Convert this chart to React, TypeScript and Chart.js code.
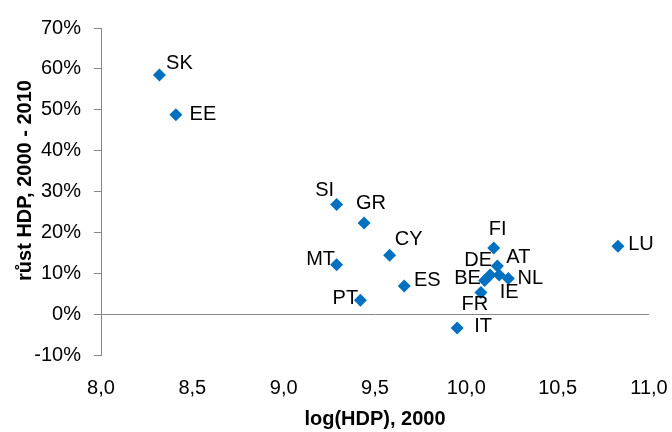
import React, { useEffect, useRef } from "react";
import { Chart, registerables } from "chart.js";

Chart.register(...registerables);

const countries = ["SK", "EE", "SI", "GR", "CY", "MT", "ES", "PT", "IT", "FI", "AT", "DE", "BE", "NL", "IE", "FR", "LU"];
const logGdp2000 = [8.32, 8.41, 9.29, 9.44, 9.58, 9.29, 9.66, 9.42, 9.95, 10.15, 10.17, 10.13, 10.1, 10.23, 10.18, 10.08, 10.83];
const gdpGrowth = [58.5, 48.8, 26.8, 22.3, 14.4, 12.1, 6.9, 3.4, -3.4, 16.2, 11.8, 9.6, 8.2, 8.7, 9.6, 5.3, 16.6];

const xTicks = [8, 8.5, 9, 9.5, 10, 10.5, 11];
const yTicks = [-10, 0, 10, 20, 30, 40, 50, 60, 70];

const xTitle = "log(HDP), 2000";
const yTitle = "růst HDP, 2000 - 2010";

// label placement offsets (px) relative to each point, by country
const labelOffsets: Record<string, [number, number]> = {
  SK: [20, -12],
  EE: [27, 0],
  SI: [-12, -14],
  GR: [7, -19],
  CY: [19, -16],
  MT: [-16, -5],
  ES: [23, -5],
  PT: [-15, -2],
  IT: [26, -2],
  FI: [4, -18],
  AT: [21, -8],
  DE: [-12, -14],
  BE: [-17, -2],
  NL: [22, 0],
  IE: [10, 18],
  FR: [-6, 12],
  LU: [23, -2],
};

const FONT = "'Liberation Sans', Arial, sans-serif";

export default function App() {
  const ref = useRef<HTMLCanvasElement | null>(null);
  useEffect(() => {
    document.body.style.margin = "0";
    const canvas = ref.current!;
    const labelPlugin = {
      id: "pointLabels",
      afterDatasetsDraw(chart: any) {
        const ctx = chart.ctx;
        const meta = chart.getDatasetMeta(0);
        ctx.save();
        ctx.font = `20px ${FONT}`;
        ctx.fillStyle = "#000";
        ctx.textAlign = "center";
        ctx.textBaseline = "middle";
        meta.data.forEach((el: any, i: number) => {
          const name = countries[i];
          const off = labelOffsets[name] || [15, 0];
          ctx.fillText(name, el.x + off[0], el.y + off[1]);
        });
        ctx.restore();
      },
      afterDraw(chart: any) {
        const ctx = chart.ctx;
        const ca = chart.chartArea;
        ctx.save();
        ctx.font = `bold 20px ${FONT}`;
        ctx.fillStyle = "#000";
        ctx.textAlign = "center";
        ctx.textBaseline = "middle";
        ctx.fillText(xTitle, (ca.left + ca.right) / 2, ca.bottom + 64);
        ctx.translate(25, (ca.top + ca.bottom) / 2 - 11);
        ctx.rotate(-Math.PI / 2);
        ctx.fillText(yTitle, 0, 0);
        ctx.restore();
      },
    };
    const chart = new Chart(canvas, {
      type: "scatter",
      data: {
        datasets: [
          {
            data: logGdp2000.map((x, i) => ({ x, y: gdpGrowth[i] })),
            pointStyle: "rectRot",
            pointRadius: 6.5,
            pointHoverRadius: 6.5,
            backgroundColor: "#0070C0",
            borderColor: "#0070C0",
            borderWidth: 0,
          },
        ],
      },
      options: {
        responsive: false,
        animation: false,
        devicePixelRatio: 1,
        layout: { padding: { top: 28, right: 23, left: 0, bottom: 0 } },
        plugins: { legend: { display: false }, tooltip: { enabled: false } },
        scales: {
          x: {
            type: "linear",
            min: xTicks[0],
            max: xTicks[xTicks.length - 1],
            afterBuildTicks: (s: any) => {
              s.ticks = xTicks.map((v) => ({ value: v }));
            },
            afterFit: (s: any) => {
              s.height = 77;
              s.paddingRight = 0;
              s.paddingLeft = 0;
            },
            grid: { display: false, drawTicks: false },
            border: { display: false },
            ticks: {
              padding: 21,
              color: "#000",
              font: { family: FONT, size: 20 },
              maxRotation: 0,
              callback: (v: any) => Number(v).toFixed(1).replace(".", ","),
            },
          },
          y: {
            type: "linear",
            min: yTicks[0],
            max: yTicks[yTicks.length - 1],
            afterBuildTicks: (s: any) => {
              s.ticks = yTicks.map((v) => ({ value: v }));
            },
            afterFit: (s: any) => {
              s.width = 101;
            },
            grid: {
              drawOnChartArea: true,
              drawTicks: true,
              tickLength: 7,
              color: (c: any) => (c.tick && c.tick.value === 0 ? "#868686" : "rgba(0,0,0,0)"),
              tickColor: "#868686",
              lineWidth: 1,
            },
            border: { display: true, color: "#868686", width: 1 },
            ticks: {
              padding: 13,
              color: "#000",
              font: { family: FONT, size: 20 },
              callback: (v: any) => `${v}%`,
            },
          },
        },
      },
      plugins: [labelPlugin],
    } as any);
    return () => chart.destroy();
  }, []);
  return (
    <div style={{ position: "absolute", left: 0, top: 0, width: 672, height: 432, background: "#fff" }}>
      <canvas ref={ref} width={672} height={432} style={{ display: "block" }} />
    </div>
  );
}
